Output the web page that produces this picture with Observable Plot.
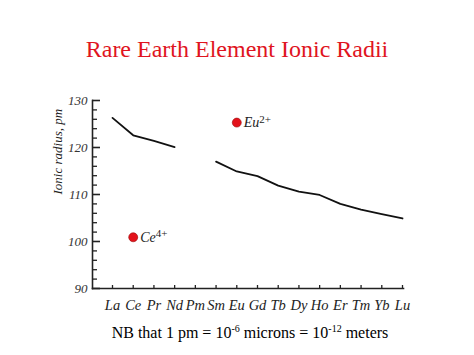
<!DOCTYPE html>
<html>
<head>
<meta charset="utf-8">
<script src="https://cdn.jsdelivr.net/npm/d3@7"></script>
<script src="https://cdn.jsdelivr.net/npm/@observablehq/plot@0.6"></script>
<style>
  html, body { margin: 0; padding: 0; background: #fff; }
  #wrap { position: relative; width: 474px; height: 355px; overflow: hidden; font-family: "Liberation Serif", "Times New Roman", serif; }
  #title { position: absolute; left: 0; width: 474px; top: 34px; text-align: center; color: #e0141e; font-size: 24px; line-height: 30px; }
  #caption { position: absolute; left: 0; width: 500px; top: 323px; text-align: center; color: #000; font-size: 16px; line-height: 20px; }
  #caption sup { font-size: 10px; vertical-align: 6px; line-height: 0; }
  #chart { position: absolute; left: 0; top: 0; }
</style>
</head>
<body>
<div id="wrap">
  <div id="chart"></div>
  <div id="title">Rare Earth Element Ionic Radii</div>
  <div id="caption">NB that 1 pm = 10<sup>-6</sup> microns = 10<sup>-12</sup> meters</div>
</div>
<script>
// Data
const elements = ["La","Ce","Pr","Nd","Pm","Sm","Eu","Gd","Tb","Dy","Ho","Er","Tm","Yb","Lu"];
const radii3 = [126.3, 122.6, 121.4, 120.1, NaN, 117.0, 114.9, 113.9, 111.9, 110.6, 109.9, 108.0, 106.8, 105.8, 104.9];
const specialIons = ["Eu", "Ce"];
const specialRadii = [125.3, 100.9];
const specialCharges = ["2+", "4+"];
const yMajor = [90, 100, 110, 120, 130];
const yMinor = [92, 94, 96, 98, 102, 104, 106, 108, 112, 114, 116, 118, 122, 124, 126, 128];
const yLabel = "Ionic radius, pm";

const lineData = elements.map((e, i) => ({el: e, r: radii3[i]}));
const pts = specialIons.map((e, i) => ({el: e, r: specialRadii[i], label: e + "|" + specialCharges[i]}));

const W = 474, H = 355;
const mL = 92, mR = 71, mT = 100, mB = 67;
const frameW = W - mL - mR, frameH = H - mT - mB;
const font = "'Liberation Serif', 'Times New Roman', serif";

const plot = Plot.plot({
  width: W, height: H,
  marginLeft: mL, marginRight: mR, marginTop: mT, marginBottom: mB,
  x: {type: "point", domain: elements, range: [112, 402], padding: 0, round: false, axis: null},
  y: {domain: [90, 130], axis: null},
  style: {fontFamily: font, background: "transparent", overflow: "visible"},
  marks: [
    Plot.frame({anchor: "left", stroke: "#222", strokeWidth: 1.6}),
    Plot.frame({anchor: "bottom", stroke: "#222", strokeWidth: 1.6}),
    Plot.ruleY(yMajor, {y: d => d, insetRight: frameW - 8, stroke: "#222", strokeWidth: 1.6}),
    Plot.ruleY(yMinor, {y: d => d, insetRight: frameW - 5, stroke: "#222", strokeWidth: 1.3}),
    Plot.ruleX(elements, {x: d => d, insetTop: frameH - 3, stroke: "#222", strokeWidth: 1.3}),
    Plot.text(yMajor, {y: d => d, frameAnchor: "left", dx: -5, textAnchor: "end", text: d => String(d), fontSize: 13, fontStyle: "italic", fill: "#333"}),
    Plot.text(elements, {x: d => d, frameAnchor: "bottom", dy: 21, text: d => d, fontSize: 14.5, fontStyle: "italic", fill: "#222"}),
    Plot.text([yLabel], {frameAnchor: "left", dx: -35, rotate: -90, text: d => d, fontSize: 13, fontStyle: "italic", fill: "#222"}),
    Plot.line(lineData, {x: "el", y: "r", stroke: "#111", strokeWidth: 1.8}),
    Plot.dot(pts, {x: "el", y: "r", r: 4.5, fill: "#e3121b", stroke: "#9a0a0a", strokeWidth: 0.6}),
    Plot.text(pts, {x: "el", y: "r", text: "label", dx: 7, textAnchor: "start", fontSize: 14, fontStyle: "italic", fill: "#222"})
  ]
});

// turn "Eu|2+" into Eu with superscript charge
d3.select(plot).selectAll("text").each(function() {
  const t = this.textContent;
  if (t.includes("|")) {
    const [base, sup] = t.split("|");
    const sel = d3.select(this);
    sel.text(null);
    sel.append("tspan").text(base);
    sel.append("tspan").attr("dy", "-0.4em").attr("font-size", "11").attr("font-style", "normal").text(sup);
  }
});

document.getElementById("chart").appendChild(plot);
</script>
</body>
</html>
